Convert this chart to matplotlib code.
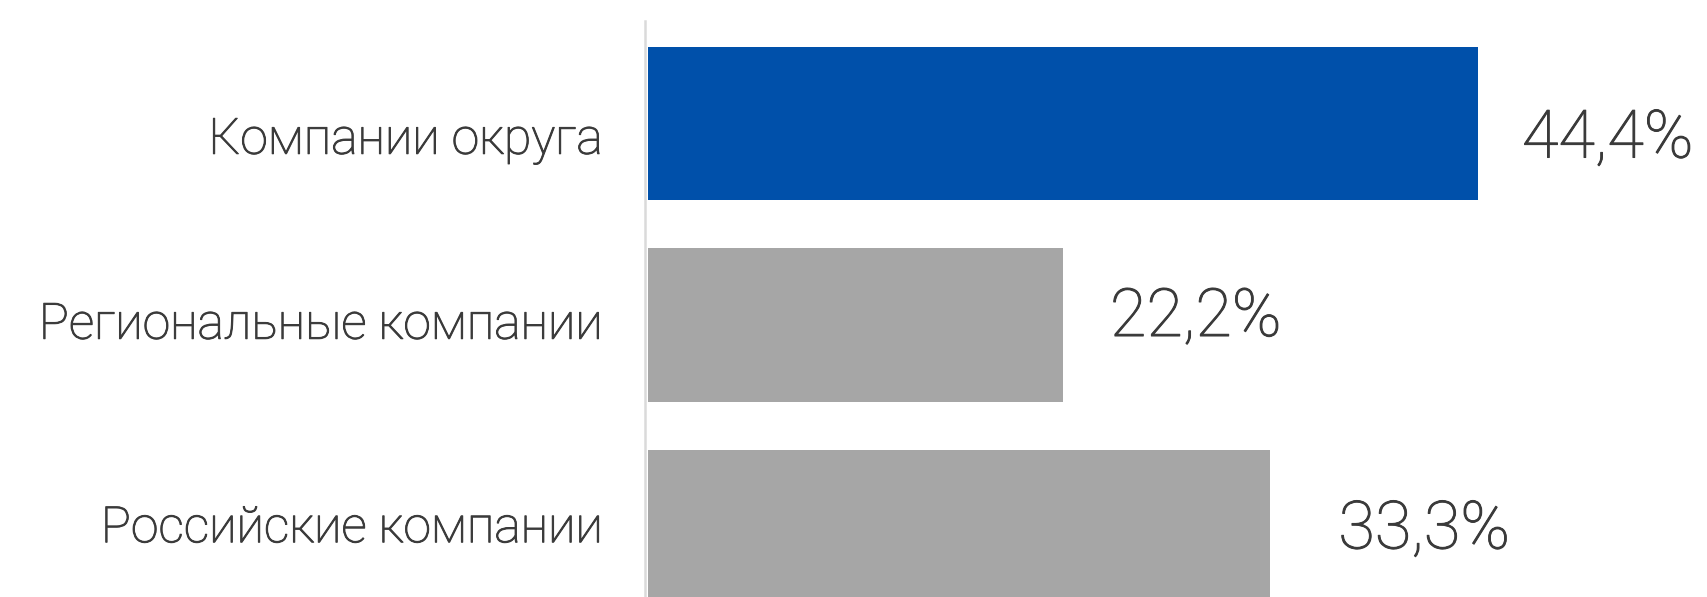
import numpy as np
import matplotlib
matplotlib.use('Agg')
from matplotlib import pyplot as plt
from matplotlib import transforms
import matplotlib.patheffects as pe

categories = ['Компании округа', 'Региональные компании', 'Российские компании']
values = [44.4, 22.2, 33.3]
value_labels = ['44,4%', '22,2%', '33,3%']
bar_colors = ['#0050aa', '#a6a6a6', '#a6a6a6']

plt.rcParams['font.family'] = ['Roboto', 'DejaVu Sans']
text_color = '#3a3a3a'
thick = [pe.withStroke(linewidth=0.7, foreground=text_color)]

fig = plt.figure(figsize=(17.07, 5.97), dpi=100)
ax = fig.add_axes([645 / 1707, 0, 1 - 645 / 1707, 1 - 21 / 597])

y = np.arange(len(categories))
ax.barh(y, values, height=0.76, color=bar_colors, linewidth=0)

ax.set_xlim(-0.16, 56.66)
ax.set_ylim(2.35, -0.509)

for s in ['top', 'right', 'bottom']:
    ax.spines[s].set_visible(False)
ax.spines['left'].set_color('#dadada')
ax.spines['left'].set_linewidth(1.8)
ax.set_xticks([])
ax.set_yticks([])

# small per-row nudges (in pixels) to follow the original layout
label_dy = [-17, 0, -2]
value_dx = [44, 47, 68]
value_dy = [-16, 7, -4]

ybl = transforms.blended_transform_factory(ax.transAxes, ax.transData)
for i, (cat, v, lab) in enumerate(zip(categories, values, value_labels)):
    off = transforms.ScaledTranslation(-42 / 100, label_dy[i] / 100, fig.dpi_scale_trans)
    ax.text(0, i, cat, transform=ybl + off, ha='right', va='center',
            fontsize=36, fontweight='light', color=text_color, path_effects=thick)
    off2 = transforms.ScaledTranslation(value_dx[i] / 100, value_dy[i] / 100, fig.dpi_scale_trans)
    ax.text(v, i, lab, transform=ax.transData + off2, ha='left', va='center',
            fontsize=48, fontweight='light', color=text_color, path_effects=thick)

fig.savefig('out.png', dpi=100)
